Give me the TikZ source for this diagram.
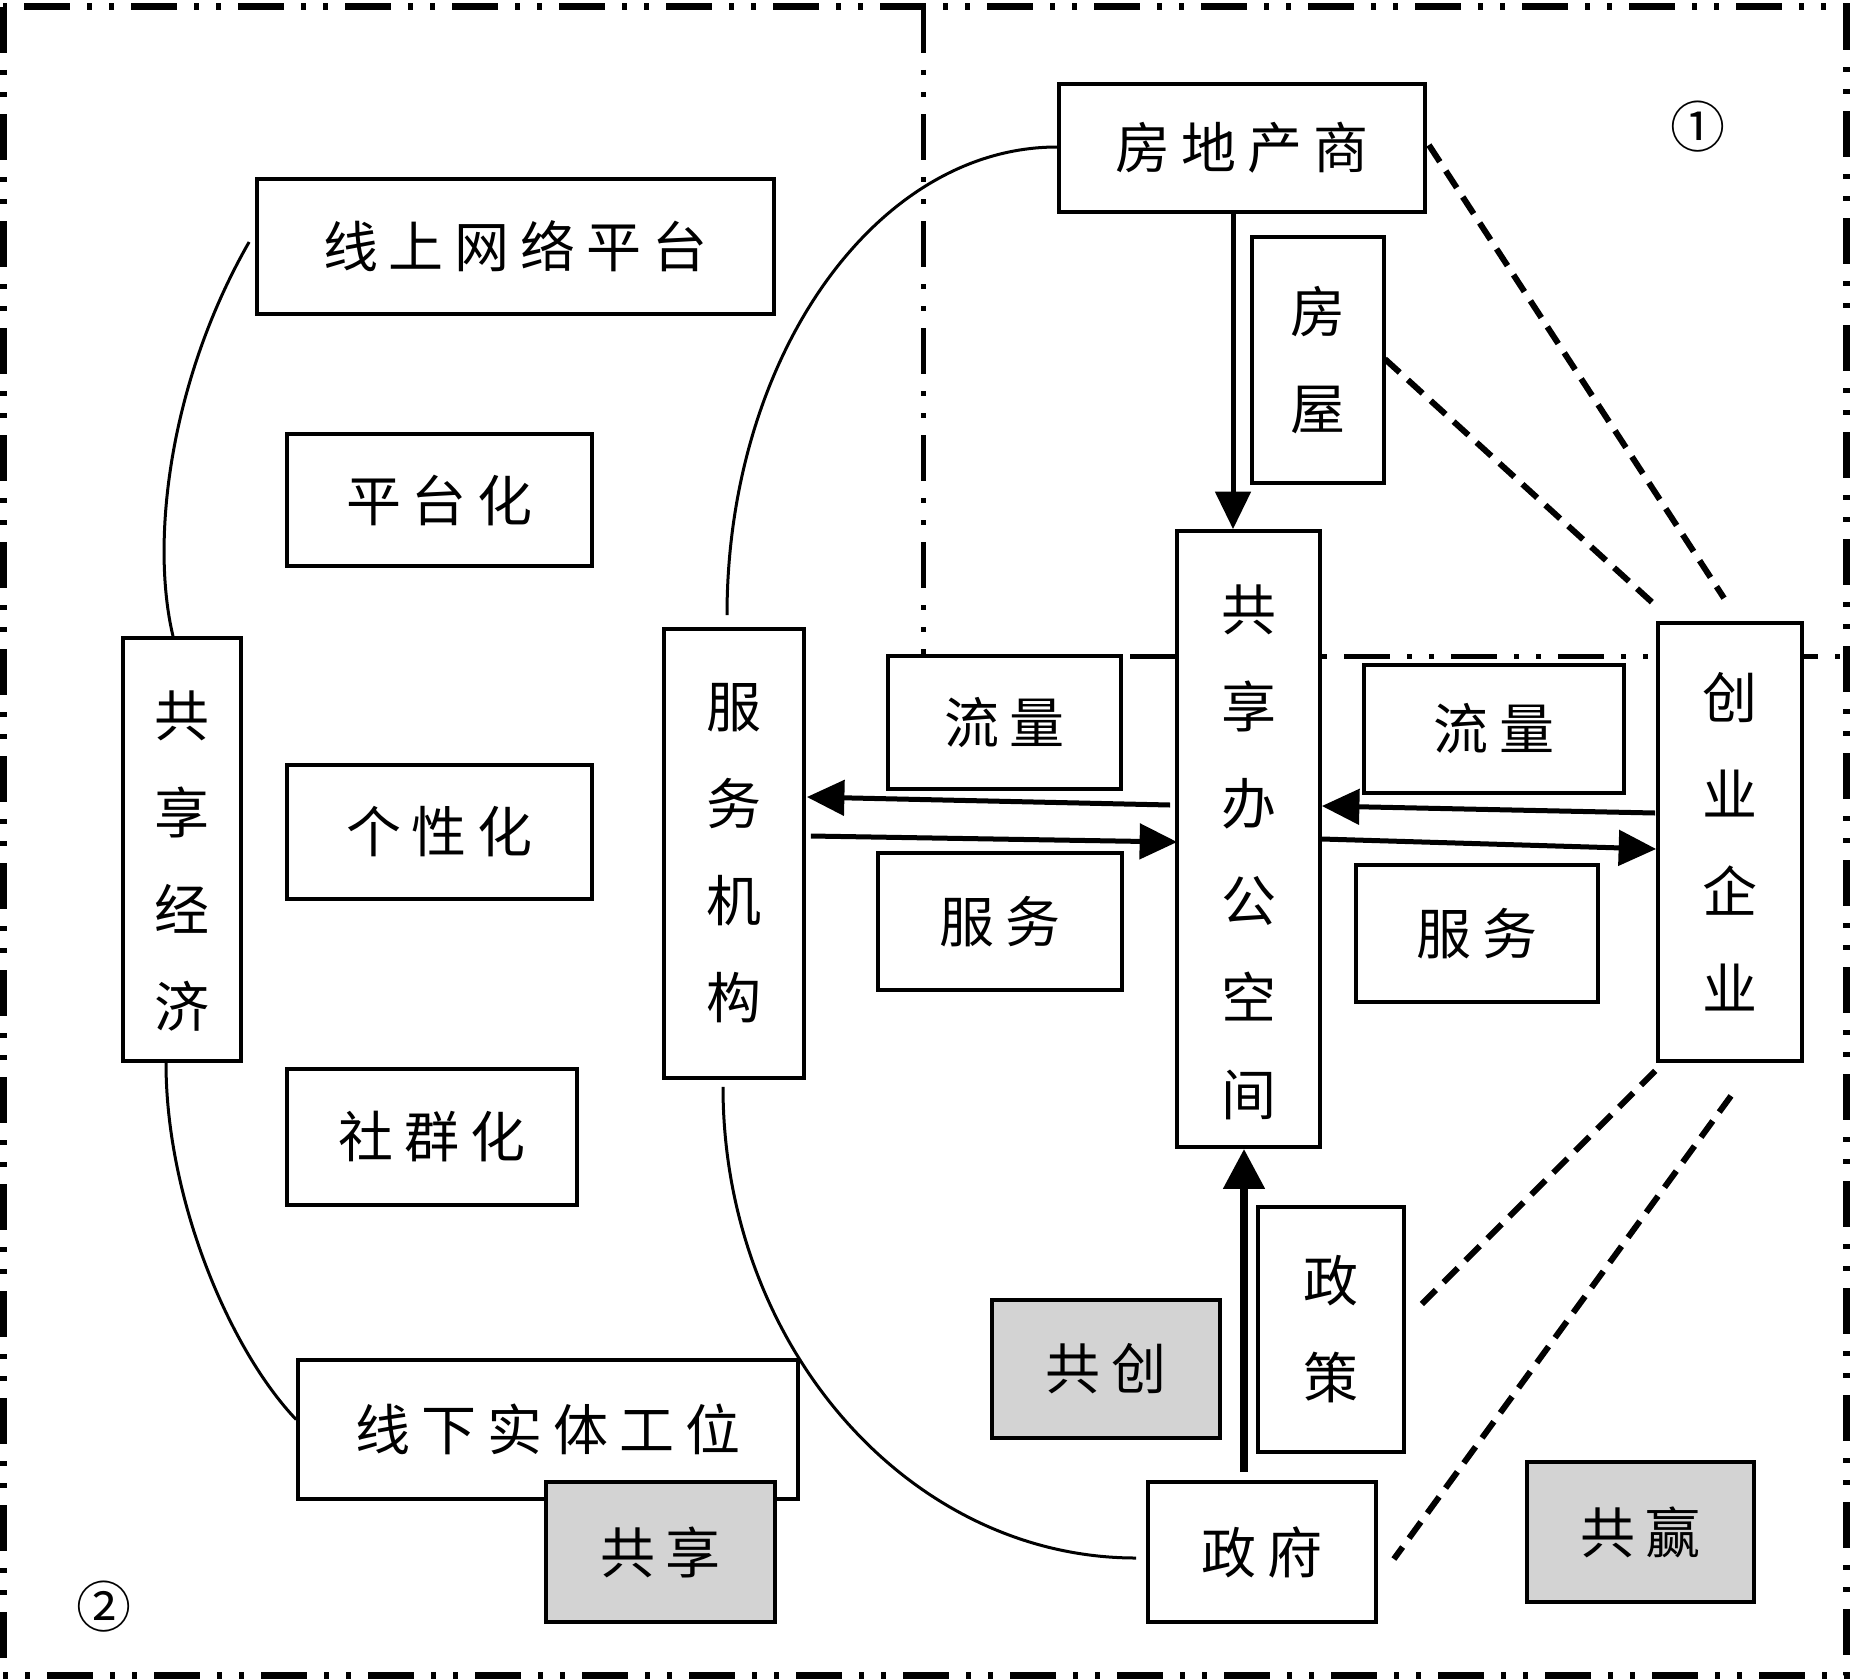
\documentclass[tikz,border=0pt]{standalone}
\usepackage{fontspec}
\usetikzlibrary{arrows.meta}
\newfontfamily\cjkh{Noto Sans CJK SC}[LetterSpace=20]
\newfontfamily\cjkv{Noto Sans CJK SC}
\definecolor{gfill}{HTML}{D3D3D3}
\begin{document}
\begin{tikzpicture}[x=0.4pt,y=-0.4pt,
  bx/.style={draw=black, line width=1.5pt, fill=white, inner sep=0pt, text=black,
    font=\cjkh\fontsize{22pt}{26pt}\selectfont},
  vbx/.style={bx, align=center, font=\cjkv\fontsize{22pt}{38.8pt}\selectfont},
  gbx/.style={bx, fill=gfill},
  mark label/.style={inner sep=0pt, font=\cjkv\fontsize{22pt}{26pt}\selectfont},
  outerframe/.style={line width=2.8pt, dash pattern=on 18.4pt off 6.8pt on 2pt off 6.8pt on 2pt off 6.8pt},
  regionline/.style={line width=2pt, dash pattern=on 18.4pt off 6.8pt on 2pt off 6.8pt on 2pt off 6.8pt},
  curveline/.style={line width=1.2pt},
  arr/.style={line width=2pt, -{Triangle[length=15pt,width=14pt]}},
  uparr/.style={line width=3.2pt, -{Triangle[length=16pt,width=16pt]}},
  dsh/.style={line width=2.4pt, dash pattern=on 8pt off 4.4pt}
]
\useasboundingbox (0,0) rectangle (1850,1679);

% frames
\draw[outerframe] (3,7) rectangle (1846,1675);
\draw[regionline] (923,7) -- (923,656) -- (1846,656);

% nodes
\node[bx, minimum width=146.4pt, minimum height=51.2pt] (fdc) at (1242,148) {房地产商};
\node[vbx, minimum width=52.8pt, minimum height=98.4pt] (fw) at (1318,360) {房\\屋};
\node[vbx, minimum width=57.2pt, minimum height=246.4pt] (gxbg) at (1248.5,839) {\rule{0pt}{29pt}共\\享\\办\\公\\空\\间};
\node[bx, minimum width=206.8pt, minimum height=54pt] (xswl) at (515.5,246.5) {线上网络平台};
\node[bx, minimum width=122pt, minimum height=52.8pt] (pth) at (439.5,500) {平台化};
\node[bx, minimum width=122pt, minimum height=53.6pt] (gxh) at (439.5,832) {个性化};
\node[bx, minimum width=116pt, minimum height=54.4pt] (sqh) at (432,1137) {社群化};
\node[bx, minimum width=200pt, minimum height=55.6pt] (xxst) at (548,1429.5) {线下实体工位};
\node[gbx, minimum width=91.6pt, minimum height=56pt] (gx) at (660.5,1552) {共享};
\node[vbx, minimum width=47.2pt, minimum height=169.2pt] (gxjj) at (182,849.5) {\rule{0pt}{27.4pt}共\\享\\经\\济};
\node[vbx, minimum width=56pt, minimum height=179.6pt] (fwjg) at (734,853.5) {服\\务\\机\\构};
\node[bx, minimum width=93.2pt, minimum height=53.2pt] (ll1) at (1004.5,722.5) {流量};
\node[bx, minimum width=97.6pt, minimum height=54.8pt] (fw1) at (1000,921.5) {服务};
\node[bx, minimum width=104pt, minimum height=51.2pt] (ll2) at (1494,729) {流量};
\node[bx, minimum width=96.8pt, minimum height=54.8pt] (fw2) at (1477,933.5) {服务};
\node[vbx, minimum width=57.6pt, minimum height=175.2pt] (cyqy) at (1730,842) {创\\业\\企\\业};
\node[vbx, minimum width=58.4pt, minimum height=98pt] (zc) at (1331,1329.5) {政\\策};
\node[gbx, minimum width=91.2pt, minimum height=55.2pt] (gc) at (1106,1369) {共创};
\node[bx, minimum width=91.2pt, minimum height=56pt] (zf) at (1262,1552) {政府};
\node[gbx, minimum width=90.8pt, minimum height=56pt] (gy) at (1640.5,1532) {共赢};

\node[mark label] (m1) at (1698,127) {①};
\node[mark label] (m2) at (104,1607) {②};

% curves
\draw[curveline] ([shift={(-6,-4.5)}]xswl.west) .. controls (170,380) and (150,540) .. ([shift={(-9,0)}]gxjj.north);
\draw[curveline] ([shift={(-16,0)}]gxjj.south) .. controls (166,1200) and (230,1350) .. ([shift={(0,-10)}]xxst.west);
\draw[curveline] ([shift={(0,-1)}]fdc.west) .. controls (875.6,147) and (727,357.4) .. ([shift={(-7,-12)}]fwjg.north);
\draw[curveline] ([shift={(-11,7)}]fwjg.south) .. controls (723,1346) and (909,1558) .. ([shift={(-10,6)}]zf.west);

% arrows
\draw[arr] ([shift={(-9,0)}]fdc.south) -- ([shift={(-15.5,0)}]gxbg.north);
\draw[arr] ([shift={(-5,-34)}]gxbg.west) -- ([shift={(1,-56.5)}]fwjg.east);
\draw[arr] ([shift={(5,-17.5)}]fwjg.east) -- ([shift={(2,3)}]gxbg.west);
\draw[arr] ([shift={(-1,-29)}]cyqy.west) -- ([shift={(0,-33)}]gxbg.east);
\draw[arr] (gxbg.east) -- ([shift={(0,7)}]cyqy.west);
\draw[uparr] ([shift={(-18,-8)}]zf.north) -- ([shift={(-4.5,0)}]gxbg.south);

% dashed links
\draw[dsh] ([shift={(2,-3)}]fdc.east) -- ([shift={(-6,-23)}]cyqy.north);
\draw[dsh] ([shift={(-1,-1)}]fw.east) -- ([shift={(-1,-16)}]cyqy.north west);
\draw[dsh] ([shift={(-1,8)}]cyqy.south west) -- ([shift={(16,-25.5)}]zc.east);
\draw[dsh] ([shift={(1,33)}]cyqy.south) -- ([shift={(16,7)}]zf.east);
\end{tikzpicture}
\end{document}
